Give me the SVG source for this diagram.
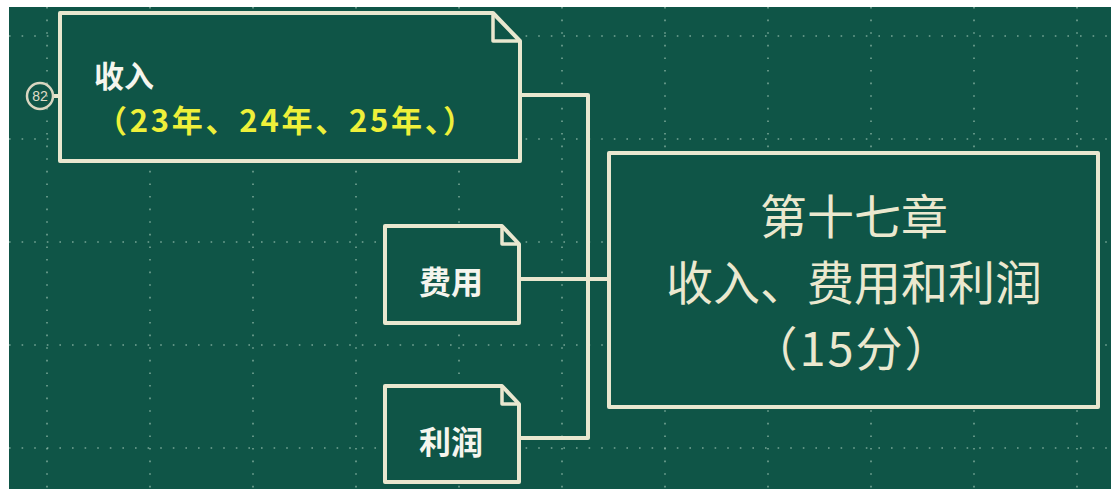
<svg xmlns="http://www.w3.org/2000/svg" width="1111" height="489" viewBox="0 0 1111 489">
<style>
.bg{fill:#0f5547}
.grid{stroke:#8fb8a8;stroke-width:1.6;stroke-dasharray:1.6 11;fill:none;opacity:0.8}
.box{fill:#0f5547;stroke:#e9e7cf;stroke-width:4;stroke-linejoin:round}
.fold{fill:none;stroke:#e9e7cf;stroke-width:3.5;stroke-linejoin:round}
.conn{fill:none;stroke:#e9e7cf;stroke-width:4;stroke-linejoin:round}
.lbl{font-family:"Noto Sans CJK SC","Noto Sans",sans-serif;font-weight:bold;fill:#f5f5ee}
.main{font-family:"Noto Sans CJK SC","Noto Sans",sans-serif;font-size:47px;fill:#ebe8cf;text-anchor:middle}
</style>
<rect x="0" y="0" width="1111" height="489" fill="#ffffff"/>
<rect class="bg" x="9" y="7" width="1102" height="482"/>
<g id="grid">
<path class="grid" d="M9 36H1111M9 139H1111M9 242H1111M9 345H1111M9 448H1111"/>
<path class="grid" d="M47 7V489M150 7V489M253 7V489M356 7V489M459 7V489M562 7V489M665 7V489M768 7V489M871 7V489M974 7V489M1077 7V489"/>
</g>
<g id="connectors">
<path class="conn" d="M520 95H588V438H520"/>
<path class="conn" d="M520 279H609"/>
<path class="conn" d="M53 96H60" stroke-width="2"/>
</g>
<g id="badge">
<circle cx="40" cy="96" r="13" fill="none" stroke="#d8d6c0" stroke-width="2.5"/>
<text x="40" y="101" font-family="'Liberation Sans',sans-serif" font-size="14" fill="#e0ddc8" text-anchor="middle">82</text>
</g>
<g id="node-shouru">
<path class="box" d="M60 13H493L520 41V161H60Z"/>
<path class="fold" d="M493 13V41H520"/>
<text class="lbl" x="94" y="87" font-size="30">收入</text>
<text class="lbl" x="96" y="132" font-size="31" style="fill:#eef03a" textLength="378" lengthAdjust="spacing">（23年、24年、25年、）</text>
</g>
<g id="node-feiyong">
<path class="box" d="M385 226H502L519 244V323H385Z"/>
<path class="fold" d="M502 226V244H519"/>
<text class="lbl" x="451" y="294" font-size="32" text-anchor="middle">费用</text>
</g>
<g id="node-lirun">
<path class="box" d="M385 386H502L519 404V482H385Z"/>
<path class="fold" d="M502 386V404H519"/>
<text class="lbl" x="451" y="454" font-size="32" text-anchor="middle">利润</text>
</g>
<g id="node-chapter">
<rect class="box" x="609" y="153" width="489" height="254"/>
<text class="main" x="854" y="234">第十七章</text>
<text class="main" x="854" y="300">收入、费用和利润</text>
<text class="main" x="852" y="366" letter-spacing="2">（15分）</text>
</g>
</svg>
